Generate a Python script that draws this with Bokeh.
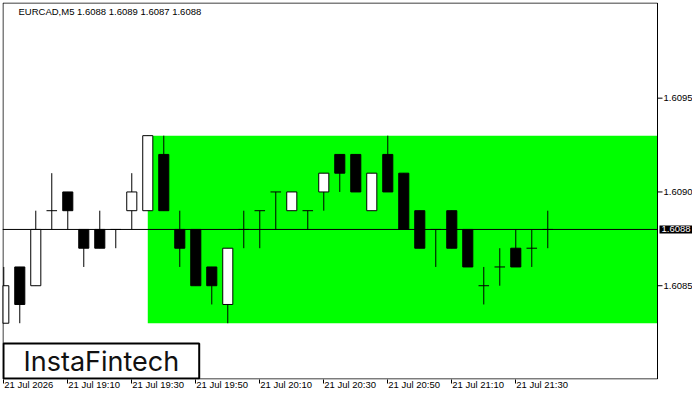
from bokeh.plotting import figure
from bokeh.models import Range1d, FixedTicker, Label, ColumnDataSource
from bokeh.core.properties import value
from bokeh.embed import file_html
from bokeh.resources import INLINE

# ---------------- data ----------------
symbol = "EURCAD,M5"
times = ["18:50", "18:55", "19:00", "19:05", "19:10", "19:15", "19:20", "19:25",
         "19:30", "19:35", "19:40", "19:45", "19:50", "19:55", "20:00", "20:05",
         "20:10", "20:15", "20:20", "20:25", "20:30", "20:35", "20:40", "20:45",
         "20:50", "20:55", "21:00", "21:05", "21:10", "21:15", "21:20", "21:25",
         "21:30", "21:35", "21:40"]
opens = [1.6083, 1.6086, 1.6085, 1.6089, 1.6090, 1.6088, 1.6088, 1.6088,
         1.6089, 1.6089, 1.6092, 1.6088, 1.6088, 1.6086, 1.6084, 1.6088,
         1.6089, 1.6090, 1.6089, 1.6089, 1.6090, 1.6092, 1.6092, 1.6089,
         1.6092, 1.6091, 1.6089, 1.6088, 1.6089, 1.6088, 1.6085, 1.6086,
         1.6087, 1.6087, 1.6088]
highs = [1.6086, 1.6086, 1.6089, 1.6091, 1.6090, 1.6088, 1.6089, 1.6088,
         1.6091, 1.6093, 1.6093, 1.6089, 1.6088, 1.6086, 1.6087, 1.6089,
         1.6089, 1.6090, 1.6090, 1.6089, 1.6091, 1.6092, 1.6092, 1.6091,
         1.6093, 1.6091, 1.6089, 1.6088, 1.6089, 1.6088, 1.6086, 1.6087,
         1.6088, 1.6088, 1.6089]
lows = [1.6083, 1.6083, 1.6085, 1.6088, 1.6088, 1.6086, 1.6087, 1.6087,
        1.6088, 1.6089, 1.6089, 1.6086, 1.6085, 1.6084, 1.6083, 1.6087,
        1.6087, 1.6088, 1.6089, 1.6088, 1.6089, 1.6090, 1.6090, 1.6089,
        1.6090, 1.6088, 1.6087, 1.6086, 1.6087, 1.6086, 1.6084, 1.6085,
        1.6086, 1.6086, 1.6087]
closes = [1.6085, 1.6084, 1.6088, 1.6089, 1.6089, 1.6087, 1.6087, 1.6088,
          1.6090, 1.6093, 1.6089, 1.6087, 1.6085, 1.6085, 1.6087, 1.6088,
          1.6089, 1.6090, 1.6090, 1.6089, 1.6091, 1.6091, 1.6090, 1.6091,
          1.6090, 1.6088, 1.6087, 1.6088, 1.6087, 1.6086, 1.6085, 1.6086,
          1.6086, 1.6087, 1.6088]
last_price = 1.6088
zone_start = "19:35"
zone_high = 1.6093
zone_low = 1.6083
x_tick_times = ["18:50", "19:10", "19:30", "19:50", "20:10", "20:30", "20:50", "21:10", "21:30"]
x_tick_labels = ["21 Jul 2026", "21 Jul 19:10", "21 Jul 19:30", "21 Jul 19:50", "21 Jul 20:10",
                 "21 Jul 20:30", "21 Jul 20:50", "21 Jul 21:10", "21 Jul 21:30"]
y_ticks = [1.6085, 1.6090, 1.6095]
y_tick_labels = ["1.6085", "1.6090", "1.6095"]
brand = "InstaFintech"

# ---------------- layout ----------------
W, H = 692, 392
BORDER_L, BORDER_T, BORDER_B = 2, 2, 13
FRAME_W = W - BORDER_L
FRAME_H = 376
PX = 16.0                       # pixels per candle
X_START = -0.08
X_END = X_START + FRAME_W / PX
X_BORDER = X_START + 655 / PX   # right edge of the chart area (price scale to its right)
Y_START, Y_END = 1.60800, 1.61001
PXY = (Y_END - Y_START) / FRAME_H
FONT = "Liberation Sans"
FS = "9.5px"

p = figure(width=W, height=H, output_backend="svg", toolbar_location=None,
           x_range=Range1d(X_START, X_END), y_range=Range1d(Y_START, Y_END),
           y_axis_location=None, min_border_left=BORDER_L, min_border_top=BORDER_T,
           min_border_right=0, min_border_bottom=BORDER_B,
           background_fill_color="white", border_fill_color="white")
p.grid.visible = False
p.outline_line_color = None

n = len(times)
xs = [times.index(t) for t in times]

# zone rectangle
zx = times.index(zone_start)
p.quad(left=[zx], right=[X_BORDER], top=[zone_high], bottom=[zone_low],
       fill_color="#00FF00", line_color=None)

# last price line
p.segment(x0=[X_START], y0=[last_price], x1=[X_BORDER], y1=[last_price],
          line_color="black", line_width=1)

# wicks
p.segment(x0=xs, y0=lows, x1=xs, y1=highs, line_color="black", line_width=1)

def subset(cond):
    idx = [i for i in range(n) if cond(i)]
    return ColumnDataSource(dict(
        x=[xs[i] for i in idx],
        top=[max(opens[i], closes[i]) for i in idx],
        bottom=[min(opens[i], closes[i]) for i in idx],
        o=[opens[i] for i in idx],
    ))

BW = 0.63
bull = subset(lambda i: closes[i] > opens[i])
bear = subset(lambda i: closes[i] < opens[i])
doji = subset(lambda i: closes[i] == opens[i])
p.vbar(x="x", top="top", bottom="bottom", width=BW, source=bull,
       fill_color="white", line_color="black", line_width=1)
p.vbar(x="x", top="top", bottom="bottom", width=BW, source=bear,
       fill_color="black", line_color="black", line_width=1)
dx = list(doji.data["x"])
p.segment(x0=[x - 0.33 for x in dx], y0=doji.data["o"], x1=[x + 0.33 for x in dx],
          y1=doji.data["o"], line_color="black", line_width=1)

# chart border
p.quad(left=[X_START + 0.5 / PX], right=[X_BORDER], top=[Y_END - 0.5 * PXY],
       bottom=[Y_START + 0.5 * PXY], fill_color=None, line_color="black", line_width=1)

# price scale on the right (inside the plot canvas)
p.segment(x0=[X_BORDER] * len(y_ticks), y0=y_ticks,
          x1=[X_BORDER + 5 / PX] * len(y_ticks), y1=y_ticks,
          line_color="black", line_width=1)
p.text(x=[X_BORDER] * len(y_ticks), y=y_ticks, text=y_tick_labels, x_offset=6,
       text_align="left", text_baseline="middle", text_font=value(FONT),
       text_font_size=value(FS), text_color="black")
p.add_layout(Label(x=X_BORDER, y=last_price, x_offset=2, text=f"{last_price:.4f}",
                   text_align="left", text_baseline="middle",
                   text_font=FONT, text_font_size=FS, text_color="white",
                   background_fill_color="black",
                   padding=dict(left=2, right=2, top=1, bottom=1)))

# x axis: tick marks as minor ticks, labels shifted so they start at the tick
CW = {"0": .556, "1": .556, "2": .556, "3": .556, "4": .556, "5": .556, "6": .556,
      "7": .556, "8": .556, "9": .556, " ": .278, "J": .5, "u": .556, "l": .222, ":": .278}
tick_x = [times.index(t) for t in x_tick_times]
label_pos = []
overrides = {}
for tx, lab in zip(tick_x, x_tick_labels):
    w = sum(CW.get(c, .556) for c in lab) * 9.5
    pos = tx + (w / 2 + 0.5) / PX
    label_pos.append(pos)
    overrides[pos] = lab
xa = p.xaxis[0]
xa.ticker = FixedTicker(ticks=label_pos, minor_ticks=tick_x)
xa.major_label_overrides = overrides
xa.axis_line_color = None
xa.major_tick_line_color = None
xa.major_tick_out = 0
xa.major_tick_in = 0
xa.minor_tick_line_color = "black"
xa.minor_tick_out = 4
xa.minor_tick_in = 0
xa.major_label_standoff = -5
xa.major_label_text_font = FONT
xa.major_label_text_font_size = FS
xa.major_label_text_color = "black"

# header text
header = f"{symbol}  {opens[-1]:.4f} {highs[-1]:.4f} {lows[-1]:.4f} {closes[-1]:.4f}"
p.add_layout(Label(x=X_START, y=Y_END, x_offset=16, y_offset=-3, text=header,
                   text_align="left", text_baseline="top",
                   text_font=FONT, text_font_size=FS, text_color="black"))

# brand box
p.add_layout(Label(x=X_START, y=Y_START, x_offset=1, y_offset=1, text=brand,
                   text_align="left", text_baseline="bottom",
                   text_font="Inter", text_font_size="27px", text_color="#111111",
                   background_fill_color="white", border_line_color="black",
                   border_line_width=2,
                   padding=dict(left=20, right=20, top=1, bottom=1)))

open("out.html", "w").write(file_html(p, INLINE))
